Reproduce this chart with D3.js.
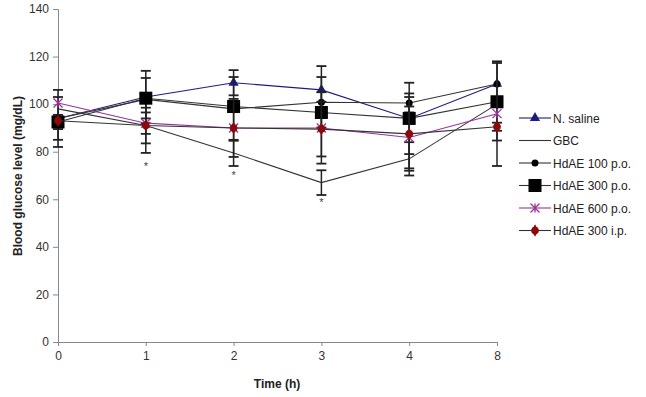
<!DOCTYPE html>
<html>
<head>
<meta charset="utf-8">
<script src="https://cdn.jsdelivr.net/npm/d3@7"></script>
<style>
  body { margin: 0; background: #fff; }
  text { font-family: Arial, "Liberation Sans", sans-serif; }
</style>
</head>
<body>
<script>
// blood glucose over time, six groups
let times = ['0', '1', '2', '3', '4', '8']
let yTicks = [0, 20, 40, 60, 80, 100, 120, 140]

let salineVals = [94, 103, 109, 106, 94, 108.5]
let salineErr = [12, 11, 5.3, 10, 15, 0]
let gbcVals = [98, 91, 79.5, 67, 77, 100]
let gbcErr = [0, 11.5, 5.5, 5.2, 7, 0]
let hd100Vals = [94, 102, 98, 100.8, 100.5, 108.5]
let hd100Err = [9, 0, 13.4, 10.6, 4, 0]
let hd300Vals = [92.5, 102.5, 99, 96.5, 94, 101]
let hd300Err = [3, 8.5, 0, 0, 0, 16.3]
let hd600Vals = [100.5, 92, 90, 90, 86, 96]
let hd600Err = [0, 4.5, 12.2, 15, 13, 22]
let hd300ipVals = [93, 91, 90, 89.5, 87.5, 90.5]
let hd300ipErr = [0, 7.5, 0, 11.5, 15.5, 1.7]

// significance marks under GBC
let starTimes = ['1', '2', '3']
let starVals = [72.5, 68.5, 57]

let series = [
  {name: 'N. saline', vals: salineVals, err: salineErr, line: '#1c1c80', marker: 'triangle', fill: '#1c1c80'},
  {name: 'GBC', vals: gbcVals, err: gbcErr, line: '#333', marker: 'none', fill: '#333'},
  {name: 'HdAE 100 p.o.', vals: hd100Vals, err: hd100Err, line: '#333', marker: 'circle', fill: '#000'},
  {name: 'HdAE 300 p.o.', vals: hd300Vals, err: hd300Err, line: '#333', marker: 'square', fill: '#000'},
  {name: 'HdAE 600 p.o.', vals: hd600Vals, err: hd600Err, line: '#993399', marker: 'star', fill: '#993399'},
  {name: 'HdAE 300 i.p.', vals: hd300ipVals, err: hd300ipErr, line: '#333', marker: 'dot', fill: '#8b0a0a'}
]

let W = 646
let H = 397
let svg = d3.select('body').append('svg')
  .attr('width', W)
  .attr('height', H)

let x = d3.scalePoint().domain(times).range([58, 497])
let y = d3.scaleLinear().domain([0, 140]).range([342, 9])

// y axis
let yAxis = svg.append('g')
  .attr('transform', 'translate(58,0)')
  .call(d3.axisLeft(y).tickValues(yTicks).tickSize(5).tickPadding(4))
yAxis.select('.domain').attr('stroke', '#888')
yAxis.selectAll('.tick line').attr('stroke', '#888')
yAxis.selectAll('.tick text').attr('font-size', 12).attr('fill', '#333')

// x axis
let xAxis = svg.append('g')
  .attr('transform', 'translate(0,342)')
  .call(d3.axisBottom(x).tickSize(4).tickSizeOuter(0).tickPadding(5))
xAxis.select('.domain').attr('stroke', '#888').attr('d', 'M55,0.5H497')
xAxis.selectAll('.tick line').attr('stroke', '#888')
xAxis.selectAll('.tick text').attr('font-size', 12).attr('fill', '#333')

svg.append('text')
  .attr('transform', 'translate(22,176) rotate(-90)')
  .attr('text-anchor', 'middle')
  .attr('font-size', 12).attr('font-weight', 'bold').attr('fill', '#222')
  .text('Blood glucose level (mg/dL)')
svg.append('text')
  .attr('x', 277).attr('y', 388)
  .attr('text-anchor', 'middle')
  .attr('font-size', 12).attr('font-weight', 'bold').attr('fill', '#222')
  .text('Time (h)')

function drawMarker (g, type, fill, cx, cy) {
  if (type === 'triangle') {
    g.append('path')
      .attr('d', d3.symbol(d3.symbolTriangle, 45)())
      .attr('transform', 'translate(' + cx + ',' + cy + ')')
      .attr('fill', fill)
  } else if (type === 'circle') {
    g.append('circle').attr('cx', cx).attr('cy', cy).attr('r', 3.5).attr('fill', fill)
  } else if (type === 'square') {
    g.append('rect').attr('x', cx - 6.5).attr('y', cy - 6.5)
      .attr('width', 13).attr('height', 13).attr('fill', fill)
  } else if (type === 'star') {
    let s = 4.5
    g.append('path')
      .attr('d', 'M' + (cx - s) + ',' + (cy - s) + 'L' + (cx + s) + ',' + (cy + s) +
        'M' + (cx - s) + ',' + (cy + s) + 'L' + (cx + s) + ',' + (cy - s) +
        'M' + cx + ',' + (cy - s) + 'L' + cx + ',' + (cy + s))
      .attr('stroke', fill).attr('stroke-width', 1.3).attr('fill', 'none')
  } else if (type === 'dot') {
    g.append('path')
      .attr('d', d3.symbol(d3.symbolDiamond, 45)())
      .attr('transform', 'translate(' + cx + ',' + cy + ')')
      .attr('fill', fill)
    g.append('circle').attr('cx', cx).attr('cy', cy).attr('r', 3.8).attr('fill', fill)
  }
}

let line = d3.line()
  .x(function (d) { return x(d.t) })
  .y(function (d) { return y(d.v) })

series.forEach(function (s) {
  let pts = times.map(function (t, i) { return {t: t, v: s.vals[i], e: s.err[i]} })
  let g = svg.append('g')
  // error bars
  pts.forEach(function (p) {
    if (!p.e) return
    let cx = x(p.t)
    let top = y(p.v + p.e)
    let bot = y(p.v - p.e)
    g.append('line').attr('x1', cx).attr('x2', cx).attr('y1', top).attr('y2', bot)
      .attr('stroke', '#222').attr('stroke-width', 1.5)
    ;[top, bot].forEach(function (yy) {
      g.append('line').attr('x1', cx - 5).attr('x2', cx + 5).attr('y1', yy).attr('y2', yy)
        .attr('stroke', '#222').attr('stroke-width', 1.8)
    })
  })
  g.append('path')
    .attr('d', line(pts))
    .attr('fill', 'none')
    .attr('stroke', s.line)
    .attr('stroke-width', 1.1)
  pts.forEach(function (p) { drawMarker(g, s.marker, s.fill, x(p.t), y(p.v)) })
})

// asterisks
starTimes.forEach(function (t, i) {
  svg.append('text')
    .attr('x', x(t)).attr('y', y(starVals[i]))
    .attr('text-anchor', 'middle')
    .attr('font-size', 11).attr('fill', '#444')
    .text('*')
})

// legend
let legend = svg.append('g')
series.forEach(function (s, i) {
  let ly = 118 + i * 22.5
  let lg = legend.append('g')
  lg.append('line').attr('x1', 519).attr('x2', 551).attr('y1', ly).attr('y2', ly)
    .attr('stroke', s.line).attr('stroke-width', 1.1)
  drawMarker(lg, s.marker, s.fill, 535, ly)
  lg.append('text')
    .attr('x', 553).attr('y', ly + 4.5)
    .attr('font-size', 12).attr('fill', '#222')
    .text(s.name)
})
</script>
</body>
</html>
